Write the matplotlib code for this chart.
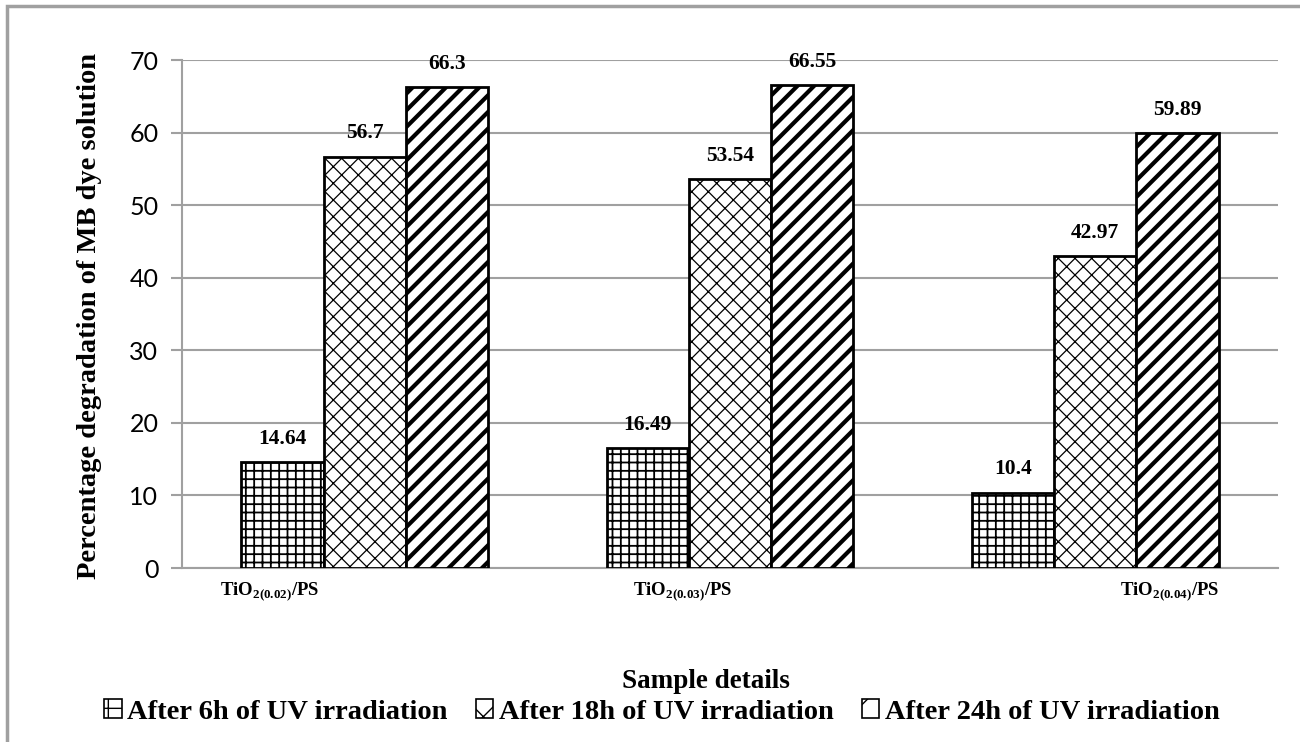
import numpy as np
import matplotlib.pyplot as plt
from matplotlib.patches import Rectangle, Patch

samples = [r'TiO$_{\mathbf{2(0.02)}}$/PS', r'TiO$_{\mathbf{2(0.03)}}$/PS', r'TiO$_{\mathbf{2(0.04)}}$/PS']
series_names = ['After 6h of UV irradiation', 'After 18h of UV irradiation', 'After 24h of UV irradiation']
after_6h = [14.64, 16.49, 10.4]
after_18h = [56.7, 53.54, 42.97]
after_24h = [66.3, 66.55, 59.89]
label_text = [['14.64', '16.49', '10.4'], ['56.7', '53.54', '42.97'], ['66.3', '66.55', '59.89']]

plt.rcParams['font.family'] = ['Liberation Serif', 'DejaVu Serif']
plt.rcParams['mathtext.fontset'] = 'custom'
plt.rcParams['mathtext.rm'] = 'Liberation Serif:bold'
plt.rcParams['mathtext.bf'] = 'Liberation Serif:bold'

fig = plt.figure(figsize=(13, 7.42), dpi=100)
ax = fig.add_axes([182/1300, 1 - 568/742, (1278-182)/1300, (568-60)/742])

x = np.arange(len(samples))
w = 0.225
hatches = ['++', 'xx', '//']
hatch_lw = [1.3, 0.9, 3.0]
handles = []
for i, vals in enumerate([after_6h, after_18h, after_24h]):
    plt.rcParams['hatch.linewidth'] = hatch_lw[i]
    bars = ax.bar(x + (i - 1) * w, vals, w, facecolor='white', edgecolor='black',
                  hatch=hatches[i], linewidth=2, zorder=3)
    h = Patch(facecolor='white', edgecolor='black', hatch=hatches[i][0], linewidth=1.2)
    for p in list(bars) + [h]:
        try:
            p.set_hatch_linewidth(hatch_lw[i] if p is not h else min(hatch_lw[i], 1.5))
        except AttributeError:
            pass
    handles.append(h)
    for b, t in zip(bars, label_text[i]):
        ax.text(b.get_x() + b.get_width() / 2, b.get_height() + 3.2, t,
                ha='center', va='center', fontsize=15.5, fontweight='bold')

ax.set_xlim(-0.5, 2.5)
ax.set_ylim(0, 70)
ax.set_yticks(range(0, 71, 10))
for lab in ax.get_yticklabels():
    lab.set_family('Lato')
    lab.set_fontsize(18)
ax.tick_params(axis='y', color='#a0a0a0', length=8, width=1.5, pad=9)
ax.set_xticks([])
ax.yaxis.grid(True, color='#a0a0a0', linewidth=1.5, zorder=0)
ax.set_axisbelow(True)
for s in ['top', 'right']:
    ax.spines[s].set_visible(False)
for s in ['left', 'bottom']:
    ax.spines[s].set_color('#a0a0a0')
    ax.spines[s].set_linewidth(1.5)

# category labels sit off-centre in the original
label_pos = [-0.26, 0.871, 2.205]
for p, s in zip(label_pos, samples):
    ax.text(p, -3.3, s, ha='center', va='center', fontsize=13.5, fontweight='bold')

ax.set_ylabel('Percentage degradation of MB dye solution', fontsize=20.5,
              fontweight='bold')
ax.yaxis.set_label_coords(-80/1096, 0.496)
fig.text(706/1300, 1 - 682/742, 'Sample details', ha='center', va='center',
         fontsize=19.5, fontweight='bold')

plt.rcParams['hatch.linewidth'] = 1.0
fig.legend(handles, series_names, loc='center', bbox_to_anchor=(662/1300, 1 - 712/742),
           ncol=3, frameon=False, prop={'weight': 'bold', 'size': 20.5},
           handlelength=0.6, handleheight=0.6, handletextpad=0.2, columnspacing=1.0)

fig.patches.append(Rectangle((7/1300, -0.1), 1.2, 1 - 6/742 + 0.1,
                             transform=fig.transFigure, fill=False,
                             edgecolor='#a0a0a0', linewidth=2.5))

fig.savefig('out.png', dpi=100)
